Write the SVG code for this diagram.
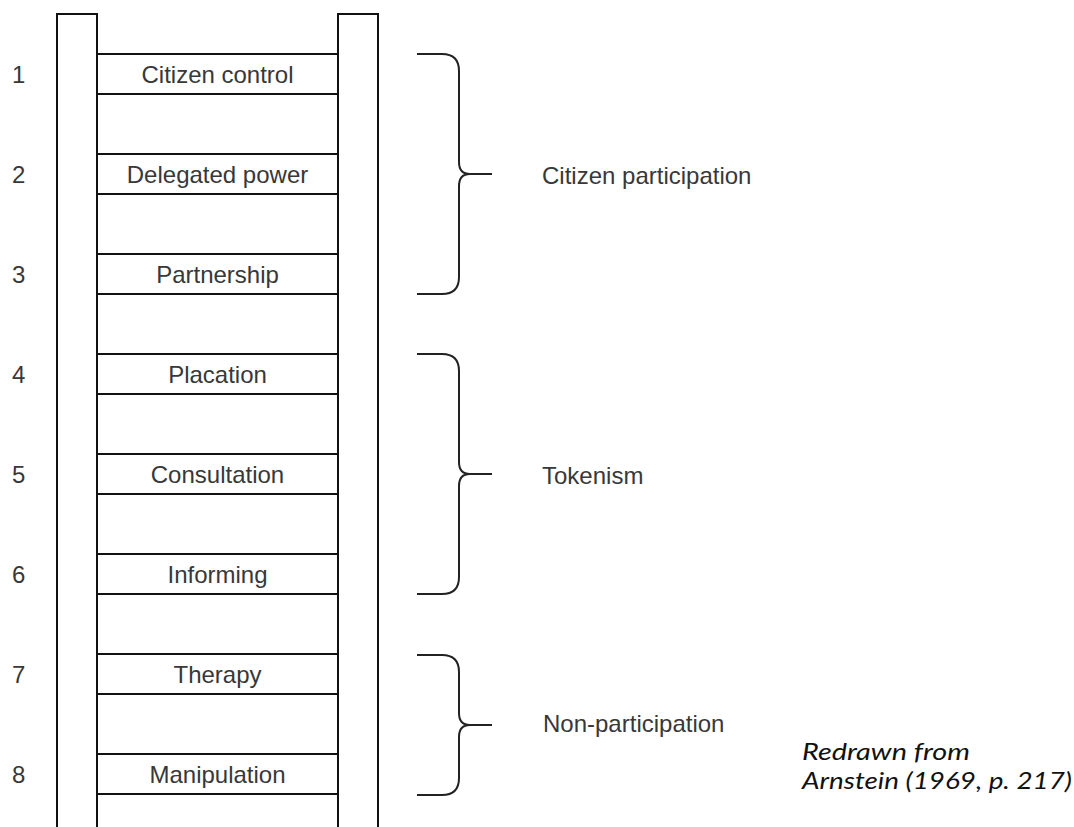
<svg xmlns="http://www.w3.org/2000/svg" width="1074" height="827" viewBox="0 0 1074 827">
<style>
.rail{fill:#fff;stroke:#111;stroke-width:2}
.rung{stroke:#111;stroke-width:2;fill:none}
.brace{stroke:#222;stroke-width:2;fill:none}
.lbl{font-family:"Liberation Sans",Arial,sans-serif;font-size:24px;fill:#383838}
.mid{text-anchor:middle}
.note{font-family:"Lato","Open Sans",sans-serif;font-style:italic;font-size:23px;fill:#111}
</style>
<rect width="1074" height="827" fill="#fff"/>
<g id="ladder">
<rect class="rail" x="57" y="14" width="40" height="830"/>
<rect class="rail" x="338" y="14" width="40" height="830"/>
</g>
<g id="rung1"><path class="rung" d="M97,54H338M97,94H338"/><text class="lbl mid" x="217.5" y="83">Citizen control</text><text class="lbl" x="12" y="83">1</text></g>
<g id="rung2"><path class="rung" d="M97,154H338M97,194H338"/><text class="lbl mid" x="217.5" y="183">Delegated power</text><text class="lbl" x="12" y="183">2</text></g>
<g id="rung3"><path class="rung" d="M97,254H338M97,294H338"/><text class="lbl mid" x="217.5" y="283">Partnership</text><text class="lbl" x="12" y="283">3</text></g>
<g id="rung4"><path class="rung" d="M97,354H338M97,394H338"/><text class="lbl mid" x="217.5" y="383">Placation</text><text class="lbl" x="12" y="383">4</text></g>
<g id="rung5"><path class="rung" d="M97,454H338M97,494H338"/><text class="lbl mid" x="217.5" y="483">Consultation</text><text class="lbl" x="12" y="483">5</text></g>
<g id="rung6"><path class="rung" d="M97,554H338M97,594H338"/><text class="lbl mid" x="217.5" y="583">Informing</text><text class="lbl" x="12" y="583">6</text></g>
<g id="rung7"><path class="rung" d="M97,654H338M97,694H338"/><text class="lbl mid" x="217.5" y="683">Therapy</text><text class="lbl" x="12" y="683">7</text></g>
<g id="rung8"><path class="rung" d="M97,754H338M97,794H338"/><text class="lbl mid" x="217.5" y="783">Manipulation</text><text class="lbl" x="12" y="783">8</text></g>
<g id="connectors">
<path class="brace" d="M417,54H442Q459,54 459,71V162Q459,174 470,174H492M470,174Q459,174 459,186V277Q459,294 442,294H417"/>
<path class="brace" d="M417,354H442Q459,354 459,371V462Q459,474 470,474H492M470,474Q459,474 459,486V577Q459,594 442,594H417"/>
<path class="brace" d="M417,655H442Q459,655 459,672V713Q459,725 470,725H492M470,725Q459,725 459,737V778Q459,795 442,795H417"/>
</g>
<g id="group1"><text class="lbl" x="542" y="184">Citizen participation</text></g>
<g id="group2"><text class="lbl" x="542" y="484">Tokenism</text></g>
<g id="group3"><text class="lbl" x="543" y="732">Non-participation</text></g>
<g id="note">
<text class="note" x="802" y="760" textLength="168" lengthAdjust="spacingAndGlyphs">Redrawn from</text>
<text class="note" x="802" y="789" textLength="270" lengthAdjust="spacingAndGlyphs">Arnstein (1969, p. 217)</text>
</g>
</svg>
